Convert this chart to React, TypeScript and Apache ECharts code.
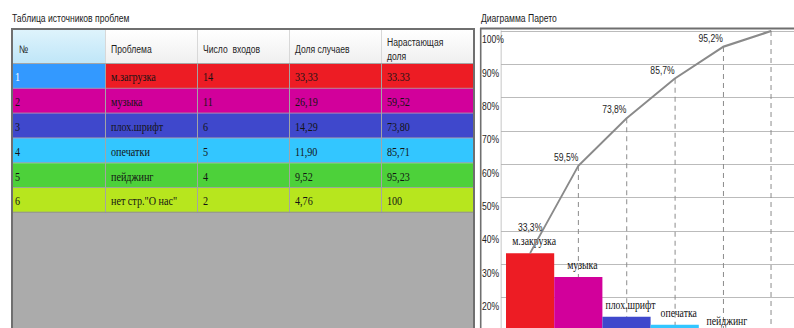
import React, { useEffect, useRef } from "react";
import * as echarts from "echarts";

const tableTitle = "Таблица источников проблем";
const chartTitle = "Диаграмма Парето";
const tableHeaders = ["№", "Проблема", "Число  входов", "Доля случаев", "Нарастающая\nдоля"];
const rowNumbers = ["1", "2", "3", "4", "5", "6"];
const tableProblems = ["м.загрузка", "музыка", "плох.шрифт", "опечатки", "пейджинг", "нет стр.\"О нас\""];
const entryCounts = ["14", "11", "6", "5", "4", "2"];
const shareLabels = ["33,33", "26,19", "14,29", "11,90", "9,52", "4,76"];
const cumulativeLabels = ["33.33", "59,52", "73,80", "85,71", "95,23", "100"];

const chartCategories = ["м.закрузка", "музыка", "плох.шрифт", "опечатка", "пейджинг", "нет стр.\"О нас\""];
const shareValues = [33.33, 26.19, 14.29, 11.9, 9.52, 4.76];
const cumulativeValues = [33.33, 59.52, 73.8, 85.71, 95.23, 100];

// styling / layout
const SX = 0.78; // the whole drawing is squeezed horizontally, like the reference
const X = (v: number) => v / SX;
const rowColors = ["#ED1C24", "#D2009B", "#3F48CC", "#33C6FF", "#4DD13A", "#B7E61E"];
const firstRowNumberColor = "#3399FF";
const SANS = "'Liberation Sans', Arial, sans-serif";
const SERIF = "'Liberation Serif', 'Times New Roman', serif";
const colX = [13, 105, 197, 289, 381, 473];
const headerTop = 30;
const headerBottom = 63.5;
const rowTop = 64;
const rowH = 24.8;

function vline(x: number, y1: number, y2: number, stroke: string, w = 1, z = 0) {
  return { type: "line", z, shape: { x1: X(x), y1, x2: X(x), y2 }, style: { stroke, lineWidth: w / SX } };
}
function hline(x1: number, x2: number, y: number, stroke: string, w = 1, z = 0) {
  return { type: "line", z, shape: { x1: X(x1), y1: y, x2: X(x2), y2: y }, style: { stroke, lineWidth: w } };
}
function rect(x: number, y: number, w: number, h: number, fill: any) {
  return { type: "rect", shape: { x: X(x), y, width: X(w), height: h }, style: { fill } };
}

function buildGraphics() {
  const g: any[] = [];
  g.push({ type: "text", x: X(12), y: 18, style: { text: tableTitle, fontSize: 11, fontFamily: SANS, fill: "#1a1a1a", verticalAlign: "middle" } });
  g.push({ type: "text", x: X(481), y: 18, style: { text: chartTitle, fontSize: 11, fontFamily: SANS, fill: "#1a1a1a", verticalAlign: "middle" } });

  // header
  g.push(rect(13, headerTop, 460, headerBottom - headerTop,
    new echarts.graphic.LinearGradient(0, 0, 0, 1, [{ offset: 0, color: "#ffffff" }, { offset: 1, color: "#efefef" }])));
  g.push(rect(13, headerTop, colX[1] - 13, headerBottom - headerTop,
    new echarts.graphic.LinearGradient(0, 0, 0, 1, [{ offset: 0, color: "#def3fc" }, { offset: 1, color: "#bfe6f8" }])));
  for (let c = 1; c < 5; c++) g.push(vline(colX[c] + 0.5, headerTop, headerBottom, "#d8d8d8"));
  g.push(hline(13, 473, headerBottom, "#9c9c9c"));
  tableHeaders.forEach((h, c) => {
    g.push({
      type: "text", x: X(colX[c] + 6), y: 49,
      style: { text: h, fontSize: 11, lineHeight: 14, fontFamily: SANS, fill: "#1e1e1e", verticalAlign: "middle" },
    });
  });

  // rows
  const rowsBottom = rowTop + rowH * rowNumbers.length;
  rowNumbers.forEach((n, i) => {
    const y = rowTop + rowH * i;
    g.push(rect(13, y, colX[1] - 13, rowH, i === 0 ? firstRowNumberColor : rowColors[i]));
    g.push(rect(colX[1], y, colX[5] - colX[1], rowH, rowColors[i]));
    const cells = [n, tableProblems[i], entryCounts[i], shareLabels[i], cumulativeLabels[i]];
    cells.forEach((t, c) => {
      g.push({
        type: "text", x: X(colX[c] + (c === 0 ? 2 : 6)), y: y + rowH / 2 + 1,
        style: { text: t, fontSize: 13, fontFamily: SERIF, fill: c === 0 && i === 0 ? "#ffffff" : "#141414", verticalAlign: "middle" },
      });
    });
    g.push(hline(13, 473, y + rowH - 0.5, "#a4a4a4"));
  });
  for (let c = 1; c < 5; c++) g.push(vline(colX[c] + 0.5, rowTop, rowsBottom, "#a4a4a4"));
  g.push(rect(13, rowsBottom, 460, 200, "#ABABAB"));
  g.push(hline(13, 473, rowsBottom - 0.5, "#8f8f8f"));

  // borders
  g.push(hline(11, 475, 29, "#6f6f6f", 2));
  g.push(vline(12, 28, 400, "#6f6f6f", 2));
  g.push(vline(474, 28, 400, "#6f6f6f", 2));
  g.push(hline(480, 830, 28.5, "#6f6f6f", 2));
  g.push(vline(480.7, 28, 400, "#6f6f6f", 1.6));
  return g;
}

function fmtPct(v: number) {
  return v.toFixed(1).replace(".", ",") + "%";
}

function buildOption(): any {
  const last = cumulativeValues.length - 1;
  return {
    animation: false,
    backgroundColor: "#ffffff",
    graphic: buildGraphics(),
    grid: { left: X(506), top: 31, width: X(289.2), height: 333.3 },
    xAxis: {
      type: "category",
      data: chartCategories,
      axisLine: { show: false },
      axisTick: { show: false },
      axisLabel: { show: false },
      splitLine: { show: false },
    },
    yAxis: {
      type: "value",
      min: 0,
      max: 100,
      interval: 10,
      offset: X(5),
      axisLine: { show: true, lineStyle: { color: "#c6c6c6", width: 1 / SX } },
      axisTick: { show: true, inside: true, length: X(5), lineStyle: { color: "#b2b2b2" } },
      splitLine: { show: true, lineStyle: { color: "#b2b2b2", width: 1 } },
      axisLabel: {
        // labels below 20% fall outside the visible window, as in the reference
        formatter: (v: number) => (v >= 20 ? v + "%" : ""),
        align: "left",
        verticalAlign: "top",
        padding: [3, 0, 0, 0],
        margin: X(19),
        fontSize: 11,
        fontFamily: SANS,
        color: "#1e1e1e",
      },
    },
    series: [
      {
        type: "bar",
        z: 6,
        data: shareValues.map((v, i) => ({
          value: v,
          itemStyle: { color: rowColors[i] },
          label: i === shareValues.length - 1 ? { show: false } : undefined,
        })),
        barCategoryGap: "0%",
        label: {
          show: true,
          position: "top",
          formatter: "{b}",
          distance: 6,
          offset: [X(4), 0],
          fontFamily: SERIF,
          fontSize: 12.5,
          color: "#111111",
        },
      },
      {
        type: "line",
        z: 7,
        data: cumulativeValues.map((v, i) => ({
          value: v,
          label: i === 0
            ? { position: "top", align: "center", distance: 20 }
            : i === last
              ? { show: false }
              : undefined,
        })),
        symbol: "circle",
        symbolSize: 1,
        itemStyle: { color: "#8a8a8a" },
        lineStyle: { color: "#8a8a8a", width: 2.2 },
        label: {
          show: true,
          position: "top",
          align: "right",
          distance: 3,
          formatter: (p: any) => fmtPct(p.value),
          fontFamily: SANS,
          fontSize: 11,
          color: "#1e1e1e",
        },
        markLine: {
          z: 3,
          silent: true,
          symbol: ["none", "none"],
          label: { show: false },
          lineStyle: { color: "#8c8c8c", width: 1 / SX, type: [5, 4] },
          data: cumulativeValues.map((v, i) => [
            { coord: [chartCategories[i], v] },
            { coord: [chartCategories[i], 0] },
          ]),
        },
      },
    ],
  };
}

export default function App() {
  const ref = useRef<HTMLDivElement>(null);
  useEffect(() => {
    if (!ref.current) return;
    const chart = echarts.init(ref.current, null, { renderer: "svg" });
    chart.setOption(buildOption());
    return () => chart.dispose();
  }, []);
  return (
    <div style={{ position: "fixed", left: 0, top: 0, width: 794, height: 328, overflow: "hidden", background: "#ffffff" }}>
      <div
        ref={ref}
        style={{ width: Math.round(X(830)), height: 400, transform: `scaleX(${SX})`, transformOrigin: "0 0" }}
      />
    </div>
  );
}
